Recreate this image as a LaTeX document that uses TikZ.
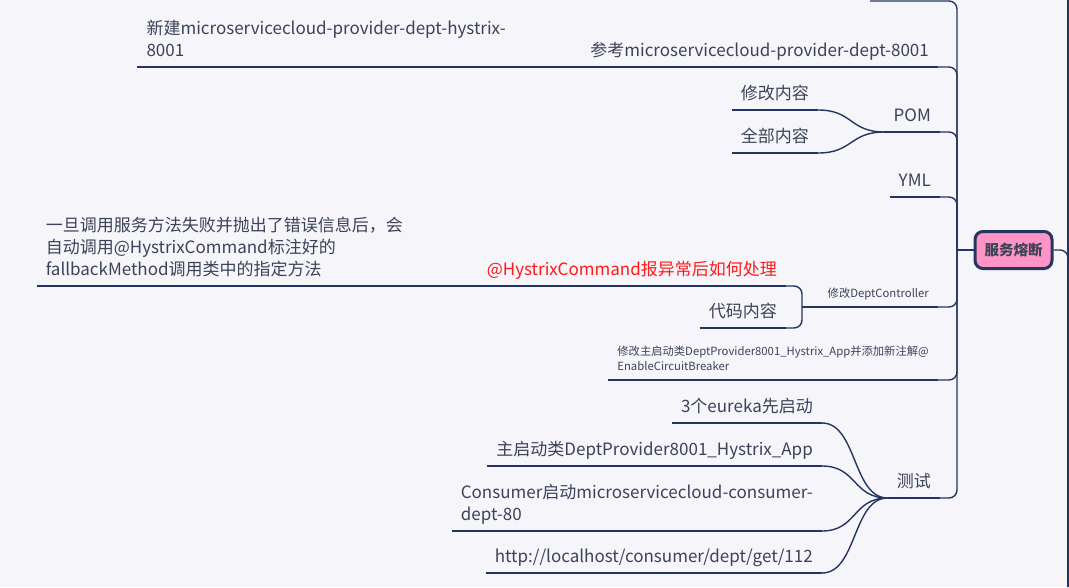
\documentclass[tikz,border=0pt]{standalone}
\usepackage{fontspec}
\setmainfont{Noto Sans CJK SC}
\usepackage{tikz}
\definecolor{mmnavy}{HTML}{24365F}
\definecolor{mmtext}{HTML}{3C4258}
\definecolor{mmpink}{HTML}{FF94C6}
\definecolor{mmbg}{HTML}{F5F5FA}
\definecolor{mmred}{HTML}{FF1A1A}

\begin{document}
\begin{tikzpicture}[x=1pt,y=-1pt,
  topic/.style={anchor=south east,inner xsep=9pt,inner ysep=6pt,text depth=4pt,align=left,
    text=mmtext,font=\fontsize{17}{22}\selectfont},
  smalltopic/.style={topic,inner ysep=6pt,text depth=3pt,font=\fontsize{11.3}{15}\selectfont},
  rootbox/.style={draw=mmnavy,line width=3pt,fill=mmpink,rounded corners=8pt,
    minimum width=77pt,minimum height=37pt,text=mmtext,font=\bfseries\fontsize{14.5}{16}\selectfont},
  conn/.style={draw=mmnavy,line width=1.4pt,rounded corners=8pt}]
  \fill[mmbg] (0,0) rectangle (1069,587);
  \useasboundingbox (0,0) rectangle (1069,587);
  % root and spines
  \node[rootbox] (root) at (1013.5,250) {服务熔断};
  \coordinate (sp) at (957,250);
  \coordinate (cut) at (870,1);
  \coordinate (edgeT) at (1068,0);
  \coordinate (edgeB) at (1068,587);
  % first level
  \node[topic] (ref) at (938,67) {参考microservicecloud-provider-dept-8001};
  \node[topic] (newb) at (515,67) {新建microservicecloud-provider-dept-hystrix-\\8001};
  \node[topic] (pom) at (940,132) {POM};
  \node[topic] (pomA) at (818,110) {修改内容};
  \node[topic] (pomB) at (818,153) {全部内容};
  \node[topic] (yml) at (940,197) {YML};
  \node[smalltopic] (ctrl) at (938,307) {修改DeptController};
  \node[topic,text=mmred] (hx) at (786,286) {@HystrixCommand报异常后如何处理};
  \node[topic] (fb) at (412,286) {一旦调用服务方法失败并抛出了错误信息后，会\\自动调用@HystrixCommand标注好的\\fallbackMethod调用类中的指定方法};
  \node[topic] (code) at (786,328) {代码内容};
  \coordinate (elbow) at (802,307);
  \node[smalltopic] (mainapp) at (938,380) {修改主启动类DeptProvider8001\_Hystrix\_App并添加新注解@\\EnableCircuitBreaker};
  % test side
  \node[topic] (test) at (940,498) {测试};
  \node[topic] (t1) at (822,423) {3个eureka先启动};
  \node[topic] (t2) at (822,466) {主启动类DeptProvider8001\_Hystrix\_App};
  \node[topic] (t3) at (822,531) {Consumer启动microservicecloud-consumer-\\dept-80};
  \node[topic] (t4) at (822,573) {http://localhost/consumer/dept/get/112};
  % underlines
  \foreach \n in {ref,newb,pom,pomA,pomB,yml,ctrl,hx,fb,code,mainapp,test,t1,t2,t3,t4}
    \draw[conn] (\n.south west) -- (\n.south east);
  % connectors
  \draw[conn] (edgeT) -- (edgeB);
  \draw[conn] (root.east) -| (edgeB);
  \draw[conn] (sp) -- (root.west);
  \foreach \n in {ref,pom,yml,ctrl,mainapp,test}
    \draw[conn] (\n.south east) -| (sp);
  \draw[conn] (cut) -| (sp);
  \draw[conn] (newb.south east) -- (ref.south west);
  \draw[conn] (fb.south east) -- (hx.south west);
  \draw[conn] (hx.south east) -| (elbow);
  \draw[conn] (code.south east) -| (elbow);
  \draw[conn] (elbow) -- (ctrl.south west);
  \foreach \n in {pomA,pomB}
    \draw[conn] (\n.south east) .. controls +(35,0) and +(-35,0) .. (pom.south west);
  \foreach \n in {t1,t2,t3,t4}
    \draw[conn] (\n.south east) .. controls +(35,0) and +(-35,0) .. (test.south west);
\end{tikzpicture}
\end{document}
